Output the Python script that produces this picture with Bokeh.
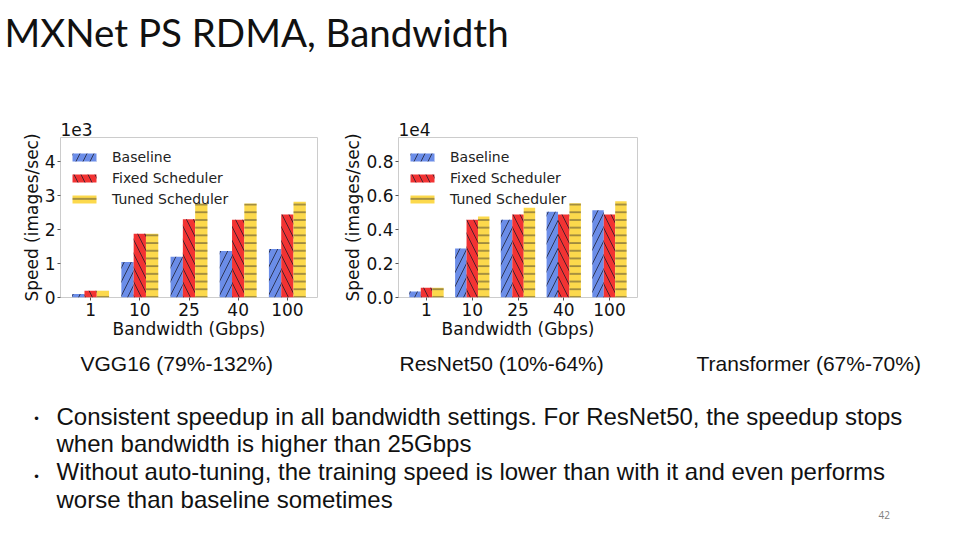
from bokeh.plotting import figure
from bokeh.models import Range1d, FixedTicker, Legend, LegendItem, Label, Spacer
from bokeh.layouts import column, row
from bokeh.embed import file_html
from bokeh.resources import INLINE

# ---------------- data ----------------
bw_labels = ["1", "10", "25", "40", "100"]
series_names = ["Baseline", "Fixed Scheduler", "Tuned Scheduler"]

vgg_baseline = [100, 1050, 1200, 1370, 1430]
vgg_fixed = [200, 1880, 2310, 2290, 2450]
vgg_tuned = [200, 1880, 2770, 2770, 2820]

res_baseline = [350, 2890, 4580, 5050, 5150]
res_fixed = [570, 4580, 4890, 4890, 4890]
res_tuned = [570, 4780, 5290, 5560, 5680]

vgg_ticks = [0, 1000, 2000, 3000, 4000]
vgg_tick_labels = ["0", "1", "2", "3", "4"]
res_ticks = [0, 2000, 4000, 6000, 8000]
res_tick_labels = ["0.0", "0.2", "0.4", "0.6", "0.8"]

title_text = "MXNet PS RDMA, Bandwidth"
captions = ["VGG16 (79%-132%)", "ResNet50 (10%-64%)", "Transformer (67%-70%)"]
bullet_lines = [
    "Consistent speedup in all bandwidth settings. For ResNet50, the speedup stops",
    "when bandwidth is higher than 25Gbps",
    "Without auto-tuning, the training speed is lower than with it and even performs",
    "worse than baseline sometimes",
]
page_number = "42"

# ---------------- styles ----------------
COLORS = ["#6b8de8", "#f23333", "#fcd94c"]
HATCH = ["right_diagonal_line", "left_diagonal_line", "horizontal_line"]
HATCH_SCALE = [14, 14, 7.7]
FONT = "DejaVu Sans"
W = 944
TOP_H = 115
CHART_H = 232
BOT_H = 185


def bar_chart(width, border_left, offset_text, base, fixed, tuned, ymax, ticks, tick_labels):
    p = figure(width=width, height=CHART_H, output_backend="svg", toolbar_location=None,
               x_range=Range1d(-0.6125, 4.6125), y_range=Range1d(0, ymax),
               min_border_left=border_left, min_border_right=8,
               min_border_top=22, min_border_bottom=50)
    p.title.text = offset_text
    p.title.text_font = FONT
    p.title.text_font_size = "17px"
    p.title.text_font_style = "normal"
    p.title.text_color = "#111111"
    p.title.align = "left"
    p.title.standoff = 3
    p.title.offset = 0
    p.grid.visible = False
    p.outline_line_color = "#cccccc"
    p.outline_line_width = 1
    xs = list(range(len(bw_labels)))
    renderers = []
    for i, vals in enumerate([base, fixed, tuned]):
        r = p.vbar(x=[x + (i - 1) * 0.25 for x in xs], top=vals, width=0.25, bottom=0,
                   fill_color=COLORS[i], line_color=None,
                   hatch_pattern=HATCH[i], hatch_scale=HATCH_SCALE[i],
                   hatch_color="#1a1a2a", hatch_alpha=0.85, hatch_weight=0.9)
        renderers.append(r)
    legend = Legend(items=[LegendItem(label=n, renderers=[r]) for n, r in zip(series_names, renderers)],
                    location="top_left")
    legend.label_text_font = FONT
    legend.label_text_font_size = "14px"
    legend.label_text_color = "#222222"
    legend.glyph_width = 30
    legend.glyph_height = 10
    legend.label_height = 21
    legend.label_standoff = 13
    legend.spacing = 0
    legend.margin = 0
    legend.padding = 9
    legend.background_fill_alpha = 0
    legend.border_line_alpha = 0
    p.add_layout(legend)

    p.xaxis.ticker = FixedTicker(ticks=xs)
    p.xaxis.major_label_overrides = {x: l for x, l in zip(xs, bw_labels)}
    p.yaxis.ticker = FixedTicker(ticks=ticks)
    p.yaxis.major_label_overrides = {t: l for t, l in zip(ticks, tick_labels)}
    p.xaxis.axis_label = "Bandwidth (Gbps)"
    p.yaxis.axis_label = "Speed (images/sec)"
    for ax in [p.xaxis[0], p.yaxis[0]]:
        ax.axis_line_color = None
        ax.major_tick_out = 3
        ax.major_tick_in = 0
        ax.major_tick_line_color = "#555555"
        ax.minor_tick_line_color = None
        ax.major_label_text_font = FONT
        ax.major_label_text_font_size = "17px"
        ax.major_label_text_color = "#111111"
        ax.axis_label_text_font = FONT
        ax.axis_label_text_font_size = "17px"
        ax.axis_label_text_font_style = "normal"
        ax.axis_label_text_color = "#111111"
        ax.major_label_standoff = 2
        ax.axis_label_standoff = 0
    return p


def text_fig(height):
    f = figure(width=W, height=height, output_backend="svg", toolbar_location=None,
               title=None,
               x_range=Range1d(0, W), y_range=Range1d(height, 0),
               x_axis_location=None, y_axis_location=None,
               min_border=0, min_border_left=0, min_border_right=0,
               min_border_top=0, min_border_bottom=0)
    f.grid.visible = False
    f.outline_line_color = None
    return f


# ---------------- top (title) ----------------
top = text_fig(TOP_H)
top.add_layout(Label(x=4, y=31, text=title_text, text_font="Lato", text_font_size="38.5px",
                     text_color="#111111", text_baseline="alphabetic", text_align="left"))

# ---------------- charts ----------------
c1 = bar_chart(307, 42, "1e3", vgg_baseline, vgg_fixed, vgg_tuned, 4717, vgg_ticks, vgg_tick_labels)
c2 = bar_chart(305, 57, "1e4", res_baseline, res_fixed, res_tuned, 9435, res_ticks, res_tick_labels)
mid = row(Spacer(width=18, height=CHART_H), c1, Spacer(width=15, height=CHART_H), c2,
          Spacer(width=W - 18 - 307 - 15 - 305, height=CHART_H))

# ---------------- bottom (captions & bullets) ----------------
bot = text_fig(BOT_H)
cap_x = [80, 399, 696]
for x, t in zip(cap_x, captions):
    bot.add_layout(Label(x=x, y=16, text=t, text_font="Liberation Sans", text_font_size="21px",
                         text_color="#111111", text_baseline="alphabetic"))
line_y = [69, 96, 124, 152]
for y, t in zip(line_y, bullet_lines):
    bot.add_layout(Label(x=56, y=y, text=t, text_font="Liberation Sans", text_font_size="24px",
                         text_color="#111111", text_baseline="alphabetic"))
for y in [70.5, 128.5]:
    bot.add_layout(Label(x=36, y=y, text="\u2022", text_font="Liberation Sans", text_font_size="13px",
                         text_color="#111111", text_baseline="alphabetic", text_align="center"))
bot.add_layout(Label(x=878, y=167, text=page_number, text_font="Open Sans", text_font_size="10px",
                     text_color="#808080", text_baseline="alphabetic"))

page = column(top, mid, bot)
open("out.html", "w").write(file_html(page, INLINE))
